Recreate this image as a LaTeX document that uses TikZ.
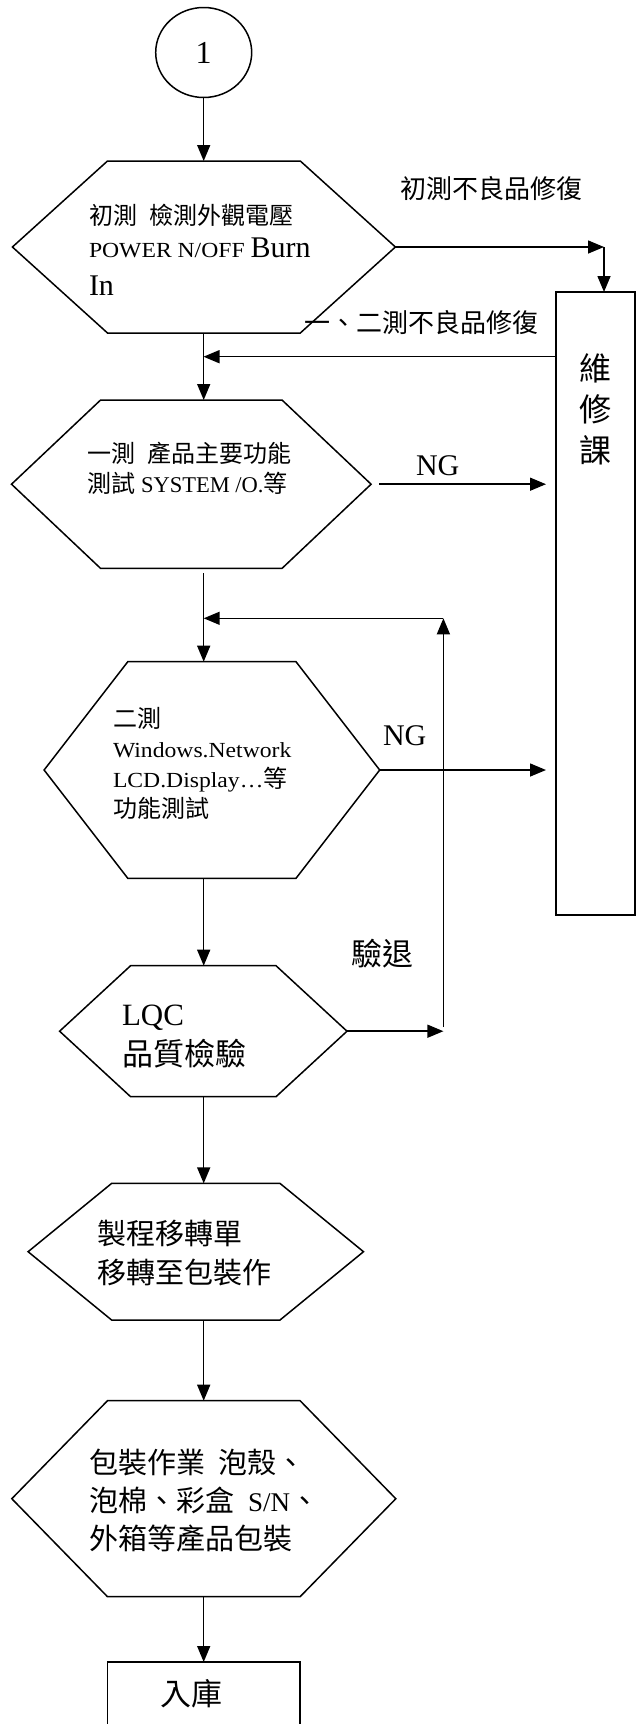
\documentclass[tikz,border=0pt]{standalone}
\usepackage{fontspec}
\setmainfont{Liberation Serif}
\newfontfamily\cjk{Noto Sans CJK TC}
\newfontfamily\wide[FakeStretch=1.1]{Liberation Serif}
\usetikzlibrary{arrows.meta,shapes.geometric,calc}
\newcommand\fs[2]{\fontsize{#1}{#2}\selectfont}
\tikzset{
  shapeline/.style={line width=1.5pt, line join=miter},
  arr/.style={line width=1.5pt, -{Triangle[length=16pt,width=13pt]}},
  txt/.style={inner sep=0pt, outer sep=0pt, align=left, anchor=base west},
}
% name, cx, cy, half top edge, half full width, half height
\newcommand\hexa[6]{%
  \node[minimum width=#4*2pt, minimum height=#6*2pt, inner sep=0pt, outer sep=0pt] (#1) at (#2,#3) {};
  \coordinate (#1-r) at ($(#1.east)+(#5-#4,0)$);
  \coordinate (#1-l) at ($(#1.west)-(#5-#4,0)$);
  \draw[shapeline] (#1.north west) -- (#1.north east) -- (#1-r) -- (#1.south east) -- (#1.south west) -- (#1-l) -- cycle;
}
\begin{document}
\begin{tikzpicture}[x=1pt,y=-1pt]
\fill[white] (0,0) rectangle (636,1724);
\useasboundingbox (0,0) rectangle (636,1724);

% start connector circle
\node[ellipse, draw, shapeline, minimum width=96pt, minimum height=90pt, inner sep=0pt, outer sep=0pt, font=\fs{32}{32}] (c1) at (203.7,52.5) {1};

% hexagons
\hexa{h1}{203.9}{247}{96.4}{191.5}{86}
\hexa{h2}{191.3}{484.2}{90.7}{179.8}{84.2}
\hexa{h3}{211.9}{770}{84.1}{167.8}{108.3}
\hexa{h4}{203.3}{1031.2}{72.7}{143.7}{65.5}
\hexa{h5}{195.8}{1251.7}{84.2}{167.7}{68.3}
\hexa{h6}{203.8}{1498.7}{96.3}{192}{98}

% boxes
\node[draw, shapeline, minimum width=79pt, minimum height=623pt, inner sep=0pt, outer sep=0pt] (rep) at (595.5,603.5) {};
\node[draw, shapeline, minimum width=192.6pt, minimum height=120pt, inner sep=0pt, outer sep=0pt, anchor=north] (store) at (203.7,1662) {};

% texts in shapes (anchored at the baseline of the last line)
\node[txt, font=\fs{24}{33}] (tx1) at (89,295) {{\cjk 初測}\hspace{13pt}{\cjk 檢測外觀電壓}\\{\wide\fs{21.5}{33}POWER N/OFF} {\fs{30}{33}Burn}\\[5pt]{\fs{30}{38}In}};
\node[txt, font=\fs{24}{30}] (tx2) at (87,492) {{\cjk 一測}\hspace{13pt}{\cjk 產品主要功能}\\{\cjk 測試} {\fs{22.5}{30}SYSTEM /O.}{\cjk 等}};
\node[txt, font=\fs{24}{30}] (tx3) at (113,817) {{\cjk 二測}\\{\wide\fs{21.5}{30}Windows.Network}\\{\wide\fs{21.5}{30}LCD.Display…}{\cjk 等}\\{\cjk 功能測試}};
\node[txt, font=\fs{31}{40}] (tx4) at (122,1065) {LQC\\{\cjk 品質檢驗}};
\node[txt, font=\fs{29}{38.5}\cjk] (tx5) at (97,1283) {製程移轉單\\移轉至包裝作};
\node[txt, font=\fs{29}{38}] (tx6) at (89,1549) {{\cjk 包裝作業}\hspace{14pt}{\cjk 泡殼、}\\{\cjk 泡棉、彩盒}\hspace{14pt}{\fs{27}{38}S/N}{\cjk 、}\\{\cjk 外箱等產品包裝}};
\node[inner sep=0pt, align=center, anchor=base, font=\fs{32}{41}\cjk] (rtx) at (595,462) {維\\修\\課};
\node[txt, font=\fs{31}{31}\cjk] (stx) at (160,1705) {入庫};

% labels
\node[txt, font=\fs{26}{26}\cjk] (lb1) at (400,198) {初測不良品修復};
\node[txt, font=\fs{26}{26}\cjk] (lb2) at (304,332) {一、二測不良品修復};
\node[txt, font=\fs{30}{30}] (ng1) at (416,475) {NG};
\node[txt, font=\fs{30}{30}] (ng2) at (383,745) {NG};
\node[txt, font=\fs{31}{31}\cjk] (lb3) at (351,965) {驗退};

% helper coordinates
\coordinate (turn) at (604,247);
\coordinate (j1) at (203.5,356.7);
\coordinate (lt) at (443.4,618.3);

% main flow
\draw[arr] (c1.south) -- (c1.south |- h1.north);
\draw[arr] (h1.south -| c1) -- (h2.north -| c1);
\draw[arr] ([yshift=-5pt]h2.south -| c1) -- (h3.north -| c1);
\draw[arr] (h3.south -| c1) -- (h4.north -| c1);
\draw[arr] (h4.south -| c1) -- (h5.north -| c1);
\draw[arr] (h5.south -| c1) -- (h6.north -| c1);
\draw[arr] (h6.south -| c1) -- (store.north -| c1);

% repair loop
\draw[arr] (h1-r) -- (turn);
\draw[arr] (turn) -- (turn |- rep.north);
\draw[arr] (j1 -| rep.west) -- (j1);
\draw[arr] ([xshift=8pt]h2-r) -- ([xshift=-10pt]h2-r -| rep.west);
\draw[arr] (h3-r) -- ([xshift=-10pt]h3-r -| rep.west);

% LQC return
\draw[arr] (h4-r) -- (h4-r -| lt);
\draw[arr] ([yshift=4pt]h4-r -| lt) -- (lt);
\draw[arr] (lt) -- (lt -| c1);
\end{tikzpicture}
\end{document}
